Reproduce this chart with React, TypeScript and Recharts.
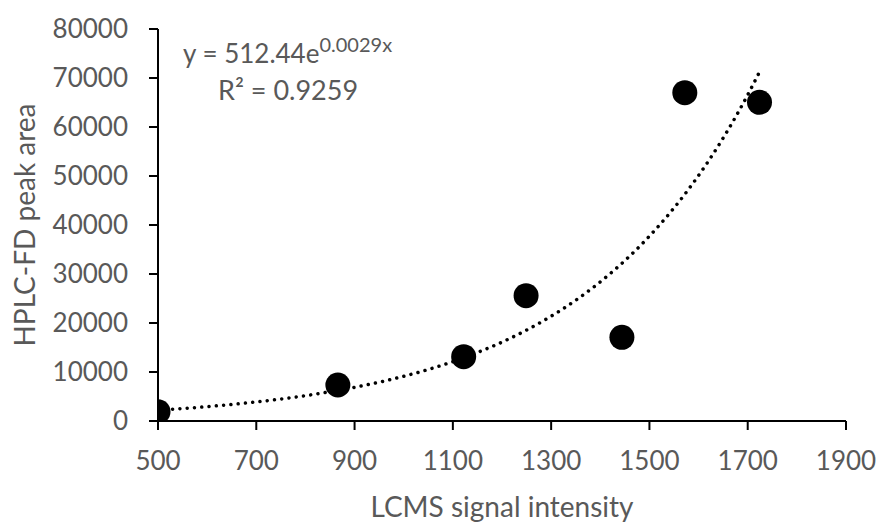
import React from 'react'
import { ScatterChart, Scatter, XAxis, YAxis, Customized } from 'recharts'

// LCMS signal intensity vs HPLC-FD peak area
const lcmsSignal = [500, 866, 1122, 1249, 1444, 1572, 1724]
const hplcArea = [1900, 7350, 13120, 25570, 17080, 67000, 65040]

const xTicks = [500, 700, 900, 1100, 1300, 1500, 1700, 1900]
const yTicks = [0, 10000, 20000, 30000, 40000, 50000, 60000, 70000, 80000]

const equationText = 'y = 512.44e'
const exponentText = '0.0029x'
const r2Text = 'R² = 0.9259'

const FONT = 'Lato, "Open Sans", sans-serif'
const GREY = '#595959'

const points = lcmsSignal.map((x, i) => ({ x, y: hplcArea[i] }))

// exponential least-squares fit (ln y on x), same as the spreadsheet trendline
function expFit(xs: number[], ys: number[]) {
  const n = xs.length
  const ly = ys.map((v) => Math.log(v))
  const mx = xs.reduce((s, v) => s + v, 0) / n
  const my = ly.reduce((s, v) => s + v, 0) / n
  let sxy = 0
  let sxx = 0
  xs.forEach((x, i) => {
    sxy += (x - mx) * (ly[i] - my)
    sxx += (x - mx) * (x - mx)
  })
  const b = sxy / sxx
  const a = Math.exp(my - b * mx)
  return (x: number) => a * Math.exp(b * x)
}

const fit = expFit(lcmsSignal, hplcArea)
const xMin = Math.min(...lcmsSignal)
const xMax = Math.max(...lcmsSignal)
const trend: { x: number; y: number }[] = []
for (let x = xMin; x <= xMax; x += 6) trend.push({ x, y: fit(x) })
trend.push({ x: xMax, y: fit(xMax) })

const tickStyle = { fill: GREY, fontSize: 26, fontFamily: FONT }

function Annotations() {
  return (
    <g fontFamily={FONT} fill={GREY}>
      <text x={183} y={63} fontSize={26}>
        {equationText}
        <tspan fontSize={20} dy={-11}>
          {exponentText}
        </tspan>
      </text>
      <text x={218} y={100} fontSize={27}>
        {r2Text}
      </text>
      <text
        x={35}
        y={225}
        fontSize={28}
        textAnchor="middle"
        transform="rotate(-90 35 225)"
      >
        HPLC-FD peak area
      </text>
    </g>
  )
}

export default function App() {
  return (
    <div
      style={{
        position: 'absolute',
        left: 0,
        top: 0,
        width: 884,
        height: 525,
        background: '#ffffff',
      }}
    >
      <ScatterChart
        width={884}
        height={525}
        margin={{ top: 29, right: 38, bottom: 0, left: 0 }}
      >
        <XAxis
          type="number"
          dataKey="x"
          domain={[500, 1900]}
          ticks={xTicks}
          allowDataOverflow
          height={104}
          axisLine={{ stroke: '#000', strokeWidth: 2 }}
          tickLine={{ stroke: '#000', strokeWidth: 2 }}
          tickSize={9}
          tickMargin={22}
          tick={tickStyle}
          label={{
            value: 'LCMS signal intensity',
            position: 'insideBottom',
            offset: 8,
            fill: GREY,
            fontSize: 28,
            fontFamily: FONT,
          }}
        />
        <YAxis
          type="number"
          dataKey="y"
          domain={[0, 80000]}
          ticks={yTicks}
          allowDataOverflow
          width={158}
          axisLine={{ stroke: '#000', strokeWidth: 2 }}
          tickLine={{ stroke: '#000', strokeWidth: 2 }}
          tickSize={9}
          tickMargin={21}
          tick={tickStyle}
        />
        <Scatter
          data={points}
          fill="#000"
          isAnimationActive={false}
          shape={(p: any) => <circle cx={p.cx} cy={p.cy} r={12.5} fill="#000" />}
        />
        <Scatter
          data={trend}
          fill="none"
          isAnimationActive={false}
          line={{
            stroke: '#000',
            strokeWidth: 3.5,
            strokeDasharray: '0.01 7.3',
            strokeLinecap: 'round',
          }}
          lineType="joint"
          shape={() => <g />}
        />
        <Customized component={Annotations} />
      </ScatterChart>
    </div>
  )
}
